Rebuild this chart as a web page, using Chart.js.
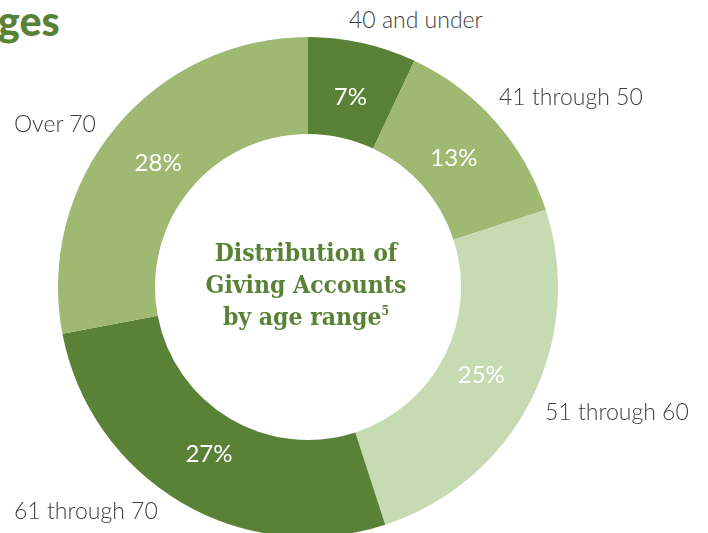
<!DOCTYPE html>
<html>
<head>
<meta charset="utf-8">
<script src="https://cdn.jsdelivr.net/npm/chart.js@4.4.1/dist/chart.umd.min.js"></script>
<style>
  html, body { margin: 0; padding: 0; width: 708px; height: 533px; overflow: hidden; background: #fff; }
  body { position: relative; font-family: Lato, "Open Sans", sans-serif; }
  #wrap { position: absolute; left: 58px; top: 37px; width: 500px; height: 500px; }
  .lbl { position: absolute; font-family: Lato; font-weight: 300; font-size: 23px; color: #3d3d3d; white-space: nowrap; line-height: 1; }
  #heading { position: absolute; left: -2px; top: 0px; font-family: Lato; font-weight: 900; font-size: 41px; color: #5a8237; line-height: 1; }
  #center { position: absolute; left: 156px; top: 237px; width: 300px; text-align: center; font-family: "DejaVu Serif Condensed", "DejaVu Serif", serif; font-weight: bold; font-size: 24.5px; line-height: 32px; color: #5a8237; }
  #center sup { font-size: 12px; vertical-align: 10px; line-height: 0; }
</style>
</head>
<body>
<div id="heading">ges</div>
<div id="wrap"><canvas id="donut" width="500" height="500"></canvas></div>
<div id="center">Distribution of<br>Giving Accounts<br>by age range<sup>5</sup></div>
<div class="lbl" style="left:349px; top:8px;">40 and under</div>
<div class="lbl" style="left:499px; top:85px;">41 through 50</div>
<div class="lbl" style="left:14px; top:112px;">Over 70</div>
<div class="lbl" style="left:545px; top:400px;">51 through 60</div>
<div class="lbl" style="left:14px; top:499px;">61 through 70</div>
<script>
// age ranges, clockwise from the top
const categories = ["40 and under", "41 through 50", "51 through 60", "61 through 70", "Over 70"];
const shares = [7, 13, 25, 27, 28];
const sliceColors = ["#5a8237", "#9fb872", "#c6dbb2", "#5a8237", "#9fb872"];

// white % labels in the middle of each slice
const pctLabels = {
  id: "pctLabels",
  afterDatasetsDraw(chart) {
    const ctx = chart.ctx;
    const meta = chart.getDatasetMeta(0);
    ctx.save();
    ctx.fillStyle = "#fff";
    ctx.font = "400 24px Lato";
    ctx.textAlign = "center";
    ctx.textBaseline = "middle";
    meta.data.forEach((arc, i) => {
      const mid = (arc.startAngle + arc.endAngle) / 2;
      const r = (arc.innerRadius + arc.outerRadius) / 2 - 7;
      ctx.fillText(shares[i] + "%", arc.x + Math.cos(mid) * r, arc.y + Math.sin(mid) * r);
    });
    ctx.restore();
  },
};

new Chart(document.getElementById("donut").getContext("2d"), {
  type: "doughnut",
  data: {
    labels: categories,
    datasets: [{ data: shares, backgroundColor: sliceColors, borderWidth: 0 }],
  },
  options: {
    responsive: false,
    animation: false,
    cutout: "61.2%",
    layout: { padding: 0 },
    plugins: { legend: { display: false }, tooltip: { enabled: false } },
  },
  plugins: [pctLabels],
});
</script>
</body>
</html>
